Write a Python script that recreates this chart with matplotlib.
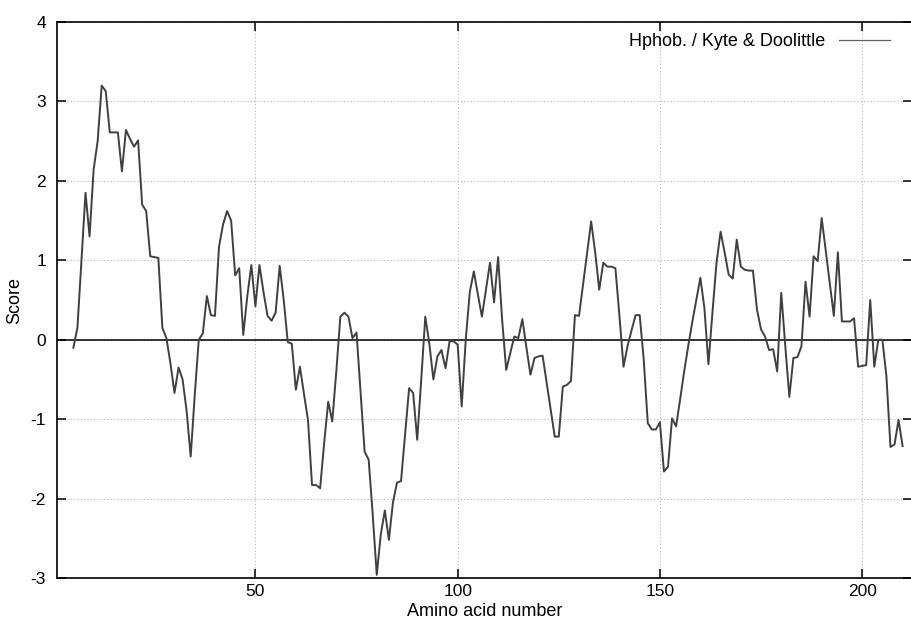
import matplotlib
matplotlib.use("Agg")
import matplotlib.pyplot as plt
import numpy as np

plt.rcParams["font.family"] = ["Liberation Sans", "DejaVu Sans"]
plt.rcParams["axes.unicode_minus"] = False

# Kyte & Doolittle hydrophobicity profile, first value at residue 5
FIRST_RESIDUE = 5
SCORES = [
    -0.10, 0.15, 1.00, 1.85, 1.30, 2.14, 2.50, 3.20, 3.13, 2.61,   # 5-14
    2.61, 2.61, 2.12, 2.64, 2.53, 2.43, 2.51, 1.70, 1.62, 1.05,    # 15-24
    1.04, 1.03, 0.15, 0.02, -0.30, -0.67, -0.35, -0.50, -0.90, -1.47,  # 25-34
    -0.70, 0.00, 0.08, 0.55, 0.31, 0.30, 1.17, 1.45, 1.62, 1.50,   # 35-44
    0.81, 0.90, 0.06, 0.55, 0.94, 0.42, 0.94, 0.60, 0.30, 0.24,    # 45-54
    0.34, 0.93, 0.50, -0.03, -0.05, -0.63, -0.34, -0.68, -1.01, -1.83,  # 55-64
    -1.83, -1.87, -1.30, -0.78, -1.03, -0.40, 0.29, 0.34, 0.29, 0.02,  # 65-74
    0.09, -0.65, -1.41, -1.51, -2.20, -2.96, -2.45, -2.15, -2.52, -2.05,  # 75-84
    -1.80, -1.78, -1.20, -0.61, -0.67, -1.26, -0.50, 0.29, -0.05, -0.50,  # 85-94
    -0.21, -0.13, -0.36, -0.02, -0.02, -0.06, -0.84, 0.00, 0.60, 0.86,  # 95-104
    0.57, 0.29, 0.63, 0.97, 0.47, 1.04, 0.25, -0.38, -0.17, 0.04,  # 105-114
    0.02, 0.26, -0.10, -0.44, -0.23, -0.21, -0.20, -0.54, -0.88, -1.22,  # 115-124
    -1.22, -0.59, -0.57, -0.52, 0.31, 0.30, 0.69, 1.09, 1.49, 1.10,  # 125-134
    0.63, 0.97, 0.92, 0.92, 0.90, 0.30, -0.34, -0.08, 0.12, 0.31,  # 135-144
    0.31, -0.25, -1.05, -1.13, -1.13, -1.04, -1.66, -1.60, -0.99, -1.09,  # 145-154
    -0.75, -0.40, -0.08, 0.22, 0.50, 0.78, 0.40, -0.31, 0.35, 0.97,  # 155-164
    1.36, 1.10, 0.82, 0.77, 1.26, 0.92, 0.88, 0.87, 0.87, 0.38,    # 165-174
    0.13, 0.04, -0.13, -0.12, -0.40, 0.59, -0.08, -0.72, -0.23, -0.22,  # 175-184
    -0.08, 0.73, 0.29, 1.05, 0.99, 1.53, 1.12, 0.70, 0.30, 1.10,   # 185-194
    0.23, 0.23, 0.23, 0.27, -0.34, -0.33, -0.32, 0.50, -0.34, 0.00,  # 195-204
    0.00, -0.46, -1.35, -1.32, -1.01, -1.34,                         # 205-210
]
X_TICKS = [50, 100, 150, 200]
Y_TICKS = [-3, -2, -1, 0, 1, 2, 3, 4]
LEGEND_LABEL = "Hphob. / Kyte & Doolittle"

residues = np.arange(FIRST_RESIDUE, FIRST_RESIDUE + len(SCORES))

W, H = 911, 630
fig = plt.figure(figsize=(W / 100, H / 100), dpi=100)
ax = fig.add_axes([57.2 / W, 52 / H, (911.5 - 57.2) / W, 556 / H])

ax.plot(residues, SCORES, color="#404040", lw=1.4, label=LEGEND_LABEL)
ax.axhline(0, color="black", lw=1.1, zorder=1)

ax.set_xlim(1, 212.2)
ax.set_ylim(-3, 4)
ax.set_xticks(X_TICKS)
ax.set_yticks(Y_TICKS)
ax.grid(True, color="#b4b4b4", linestyle=(0, (1, 2)), linewidth=0.8)
ax.set_axisbelow(True)

for s in ax.spines.values():
    s.set_linewidth(1.2)
ax.tick_params(direction="in", length=6.5, width=1.1, top=True, right=True,
               labelsize=12.5, colors="black")
ax.tick_params(axis="x", pad=4)
ax.tick_params(axis="y", pad=8)

ax.set_xlabel("Amino acid number", fontsize=13, labelpad=3)
ax.set_ylabel("Score", fontsize=13, labelpad=5)

ax.legend(loc="upper right", bbox_to_anchor=(890 / W, (H - 33) / H),
          bbox_transform=fig.transFigure, frameon=False, markerfirst=False,
          fontsize=13, handlelength=2.8, handletextpad=0.8,
          borderpad=0, borderaxespad=0)
ax.get_legend().get_lines()[0].set_linewidth(0.9)
ax.get_legend().get_lines()[0].set_color("#606060")

fig.savefig("out.png", dpi=100)
